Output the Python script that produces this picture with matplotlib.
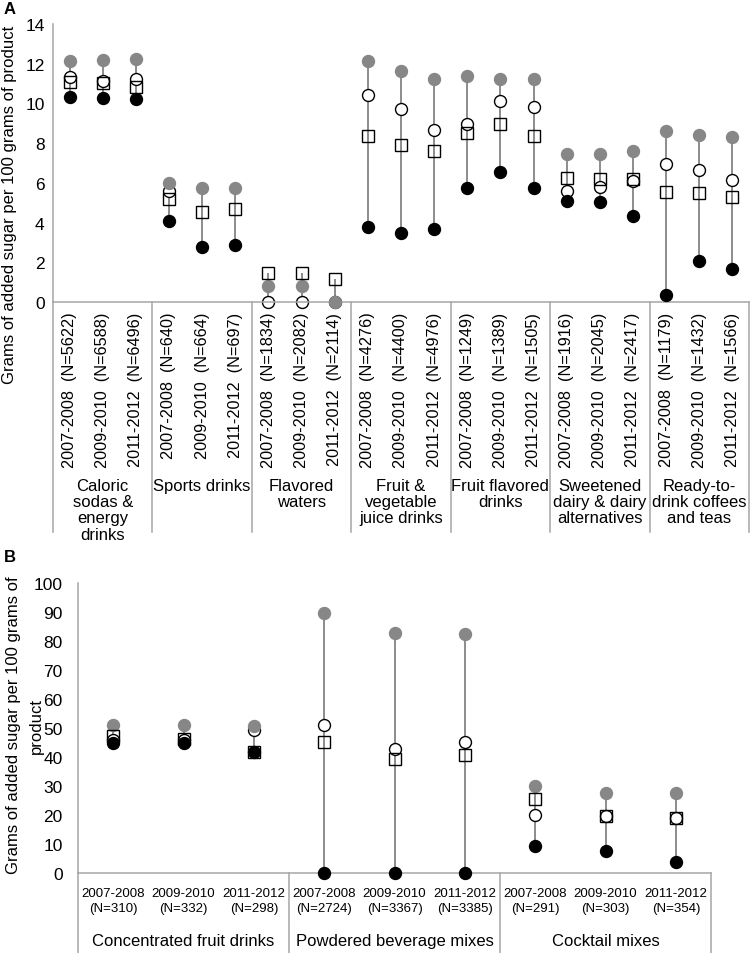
import numpy as np
import matplotlib.pyplot as plt

plt.rcParams['font.family'] = ['Liberation Sans', 'DejaVu Sans']

nan = np.nan
periods = ["2007-2008", "2009-2010", "2011-2012"]

# Panel A: beverages
groups_a = ["Caloric\nsodas &\nenergy\ndrinks", "Sports drinks", "Flavored\nwaters",
            "Fruit &\nvegetable\njuice drinks", "Fruit flavored\ndrinks",
            "Sweetened\ndairy & dairy\nalternatives", "Ready-to-\ndrink coffees\nand teas"]
n_a = [5622, 6588, 6496, 640, 664, 697, 1834, 2082, 2114, 4276, 4400, 4976,
       1249, 1389, 1505, 1916, 2045, 2417, 1179, 1432, 1566]
gray_a = [12.15, 12.2, 12.25, 6.0, 5.75, 5.75, 0.83, 0.83, 0.0, 12.15, 11.65, 11.25,
          11.4, 11.25, 11.25, 7.45, 7.45, 7.6, 8.6, 8.4, 8.3]
white_a = [11.35, 11.15, 11.25, 5.6, nan, nan, 0.0, 0.0, 0.0, 10.4, 9.7, 8.65,
           8.95, 10.1, 9.8, 5.6, 5.8, 6.1, 6.95, 6.65, 6.15]
square_a = [11.1, 11.05, 10.85, 5.2, 4.55, 4.7, 1.45, 1.45, 1.15, 8.35, 7.9, 7.6,
            8.5, 8.95, 8.35, 6.25, 6.2, 6.2, 5.55, 5.5, 5.3]
black_a = [10.3, 10.25, 10.2, 4.1, 2.75, 2.85, nan, nan, nan, 3.8, 3.45, 3.7,
           5.75, 6.55, 5.75, 5.1, 5.05, 4.35, 0.35, 2.05, 1.65]

# Panel B: concentrates and mixes
groups_b = ["Concentrated fruit drinks", "Powdered beverage mixes", "Cocktail mixes"]
n_b = [310, 332, 298, 2724, 3367, 3385, 291, 303, 354]
gray_b = [51.0, 51.0, 50.8, 89.7, 82.8, 82.3, 29.9, 27.6, 27.6]
white_b = [45.8, 45.8, 49.2, 50.9, 42.6, 45.2, 20.1, 19.5, 19.1]
square_b = [47.2, 46.1, 41.7, 45.2, 39.4, 40.8, 25.6, 19.5, 19.1]
black_b = [44.9, 44.9, 41.7, 0.0, 0.0, 0.0, 9.3, 7.5, 3.8]

W, H = 750, 954
SPINE = '#a6a6a6'
GRAY = '#878787'
LINE = '#6e6e6e'
YLABEL = "Grams of added sugar per 100 grams of product"


def draw_points(ax, gray, white, square, black):
    x = np.arange(len(gray))
    stack = np.array([gray, white, square, black], dtype=float)
    lo = np.nanmin(stack, axis=0)
    hi = np.nanmax(stack, axis=0)
    ax.vlines(x, lo, hi, color=LINE, lw=1.1, zorder=1)
    kw = dict(ls='none', ms=8.6, mew=1.0, clip_on=False)
    ax.plot(x, white, marker='o', mfc='white', mec='black', zorder=2, **kw)
    ax.plot(x, black, marker='o', mfc='black', mec='black', zorder=3, **kw)
    ax.plot(x, gray, marker='o', mfc=GRAY, mec=GRAY, zorder=4, **kw)
    ax.plot(x, square, marker='s', mfc='none', mec='black', zorder=5,
            ls='none', ms=8.2, mew=1.0, clip_on=False)


def style_axis(ax, n):
    for s in ['top', 'right']:
        ax.spines[s].set_visible(False)
    for s in ['left', 'bottom']:
        ax.spines[s].set_color(SPINE)
        ax.spines[s].set_linewidth(1.1)
    ax.set_xlim(-0.5, n - 0.5)


def separators(ax, n_groups, depth):
    for g in range(n_groups + 1):
        ax.plot([g * 3 - 0.5] * 2, [0, -depth], color=SPINE, lw=1.1,
                transform=ax.get_xaxis_transform(), clip_on=False)


fig = plt.figure(figsize=(W / 100, H / 100), dpi=100)

# ---------------- Panel A ----------------
a_left, a_right, a_top, a_bot = 53, 749, 25, 303
axA = fig.add_axes([a_left / W, 1 - a_bot / H, (a_right - a_left) / W, (a_bot - a_top) / H])
draw_points(axA, gray_a, white_a, square_a, black_a)
style_axis(axA, len(n_a))
axA.set_ylim(0, 14)
axA.set_yticks(np.arange(0, 15, 2))
axA.tick_params(axis='y', length=0, pad=6, labelsize=12.5)
labels_a = [f"{periods[i % 3]}  (N={n})" for i, n in enumerate(n_a)]
axA.set_xticks(np.arange(len(n_a)), labels_a, rotation=90)
axA.tick_params(axis='x', length=0, pad=7, labelsize=11.7)
hA = a_bot - a_top
separators(axA, len(groups_a), (533 - a_bot) / hA)
for g, name in enumerate(groups_a):
    axA.text(g * 3 + 1, -(479 - a_bot) / hA, name, transform=axA.get_xaxis_transform(),
             ha='center', va='top', fontsize=12, linespacing=1.1)
fig.text(10 / W, 1 - 205 / H, YLABEL, rotation=90, ha='center', va='center', fontsize=12)
fig.text(4 / W, 1 - 10 / H, "A", fontsize=12, fontweight='bold', va='center')

# ---------------- Panel B ----------------
b_left, b_right, b_top, b_bot = 78, 711, 584, 874
axB = fig.add_axes([b_left / W, 1 - b_bot / H, (b_right - b_left) / W, (b_bot - b_top) / H])
draw_points(axB, gray_b, white_b, square_b, black_b)
style_axis(axB, len(n_b))
axB.set_ylim(0, 100)
axB.set_yticks(np.arange(0, 101, 10))
axB.tick_params(axis='y', length=0, pad=11, labelsize=12.5)
labels_b = [f"{periods[i % 3]}\n(N={n})" for i, n in enumerate(n_b)]
axB.set_xticks(np.arange(len(n_b)), labels_b)
axB.tick_params(axis='x', length=0, pad=10, labelsize=9.5)
for t in axB.get_xticklabels():
    t.set_linespacing(1.4)
hB = b_bot - b_top
separators(axB, len(groups_b), (H - b_bot) / hB)
for g, name in enumerate(groups_b):
    axB.text(g * 3 + 1, -(942 - b_bot) / hB, name, transform=axB.get_xaxis_transform(),
             ha='center', va='center', fontsize=12)
# wrapped axis title, one text per line
fig.text(14 / W, 1 - 725 / H, "Grams of added sugar per 100 grams of", rotation=90,
         ha='center', va='center', fontsize=12)
fig.text(36 / W, 1 - 726 / H, "product", rotation=90,
         ha='center', va='center', fontsize=12)
fig.text(4 / W, 1 - 557 / H, "B", fontsize=12, fontweight='bold', va='center')

fig.savefig("out.png", dpi=100)
